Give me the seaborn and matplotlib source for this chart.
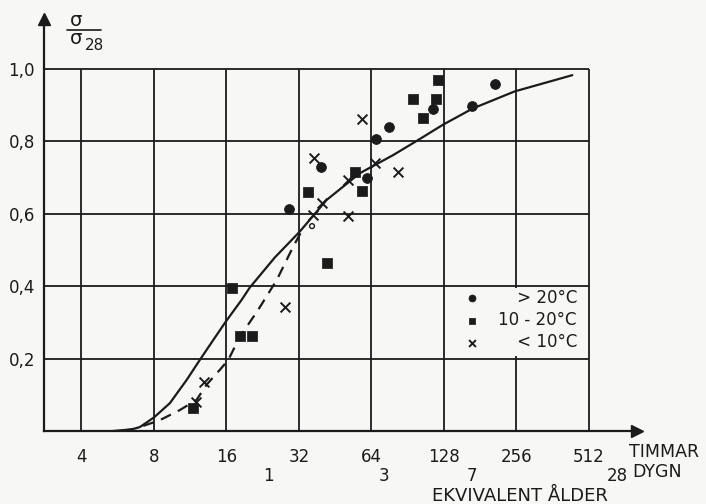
import numpy as np
import pandas as pd
import matplotlib
matplotlib.use('Agg')
import matplotlib.pyplot as plt
from matplotlib.patches import Rectangle
from matplotlib.lines import Line2D
import seaborn as sns

# ── Data ─────────────────────────────────────────────────────────────────────
hour_ticks = [4, 8, 16, 32, 64, 128, 256, 512]
day_ticks = [1, 3, 7, 28]
ratio_ticks = [0.2, 0.4, 0.6, 0.8, 1.0]

# > 20 °C (filled circles)
warm_h = [29.1, 39.7, 61.3, 66.9, 75.6, 115.5, 167.7, 209.8]
warm_r = [0.614, 0.728, 0.699, 0.808, 0.839, 0.889, 0.899, 0.959]
# one faint open circle
faint_h = [36.3]
faint_r = [0.566]

# 10 - 20 °C (filled squares)
mid_h = [11.6, 16.9, 18.2, 20.5, 34.9, 41.8, 54.8, 58.7, 95.8, 105.0, 118.6, 121.2]
mid_r = [0.064, 0.395, 0.263, 0.263, 0.661, 0.463, 0.716, 0.662, 0.917, 0.865, 0.918, 0.970]

# < 10 °C (crosses)
cold_h = [12.0, 12.9, 28.1, 36.7, 36.9, 39.8, 51.1, 51.3, 58.4, 66.2, 83.0]
cold_r = [0.081, 0.135, 0.342, 0.597, 0.753, 0.631, 0.593, 0.692, 0.862, 0.741, 0.715]

# solid curve
solid_h = [5.4, 6.1, 6.6, 7.0, 8.02, 9.32, 10.94, 12.4, 14.1, 15.9, 18.5, 20.0,
           25.4, 32.3, 41.7, 57.3, 78.8, 98.6, 127, 169, 252, 438]
solid_r = [0.0, 0.003, 0.006, 0.011, 0.038, 0.077, 0.141, 0.196, 0.251, 0.302,
           0.362, 0.396, 0.479, 0.551, 0.638, 0.712, 0.762, 0.801, 0.846, 0.891,
           0.938, 0.983]

# dashed curve
dash_h = [7.22, 8.47, 10.26, 12.03, 13.24, 15.03, 16.28, 18.2, 21.7, 25.9, 30.3, 32.8]
dash_r = [0.014, 0.030, 0.058, 0.086, 0.128, 0.169, 0.196, 0.260, 0.335, 0.417,
          0.509, 0.551]

ink = '#1b1b1b'
bg = '#f7f7f5'

sns.set_style('white')
plt.rcParams['font.family'] = ['DejaVu Sans']

fig = plt.figure(figsize=(7.06, 5.04), dpi=100, facecolor=bg)
# y: 0 at 431 px, 362 px per unit; x: 72.46 px per doubling
ax = fig.add_axes([44 / 706, 73 / 504, 593 / 706, 412 / 504], facecolor=bg)
ax.set_xscale('log', base=2)
ax.set_xlim(2.795, 813)
ax.set_ylim(0, 412 / 362)

# grid only inside the 0..1.0 / ..512 h box
ax.vlines(hour_ticks, 0, 1.0, color=ink, lw=1.3, zorder=1)
ax.hlines(ratio_ticks, 2.795, 512, color=ink, lw=1.3, zorder=1)

# curves
sns.lineplot(x=solid_h, y=solid_r, ax=ax, color=ink, lw=1.6, sort=False,
             estimator=None, zorder=2)
sns.lineplot(x=dash_h, y=dash_r, ax=ax, color=ink, lw=1.6, sort=False,
             estimator=None, zorder=2, linestyle=(0, (5, 3.5)))

# points
sns.scatterplot(x=warm_h, y=warm_r, ax=ax, marker='o', s=50, color=ink,
                edgecolor=ink, label='> 20°C', zorder=3)
sns.scatterplot(x=mid_h, y=mid_r, ax=ax, marker='s', s=45, color=ink,
                edgecolor=ink, label='10 - 20°C', zorder=3)
sns.scatterplot(x=cold_h, y=cold_r, ax=ax, marker='x', s=50, color=ink,
                linewidth=1.4, label='< 10°C', zorder=3)
sns.scatterplot(x=faint_h, y=faint_r, ax=ax, marker='o', s=12,
                facecolor='none', edgecolor=ink, linewidth=1.0, zorder=3)

# legend sits in a blanked grid cell
ax.add_patch(Rectangle((130, 0.206), 505 - 130, 0.188, transform=ax.transData,
                       facecolor=bg, edgecolor='none', zorder=2.5))
handles, labels = ax.get_legend_handles_labels()
labels = ['   \u2009> 20°C', '10 - 20°C', '   \u2009< 10°C']
leg = ax.legend(handles, labels, loc='upper left', bbox_to_anchor=(0.705, 0.345),
                frameon=False, borderpad=0, borderaxespad=0, handlelength=1.2,
                handletextpad=0.95, labelspacing=0.25, fontsize=12, markerscale=0.7)
for t in leg.get_texts():
    t.set_color(ink)

# axes with arrows
for side in ['top', 'right']:
    ax.spines[side].set_visible(False)
for side in ['left', 'bottom']:
    ax.spines[side].set_color(ink)
    ax.spines[side].set_linewidth(1.6)
ax.plot(1, 0, '>', color=ink, ms=9, transform=ax.transAxes, clip_on=False)
ax.plot(0, 1, '^', color=ink, ms=9, transform=ax.transAxes, clip_on=False)

ax.set_xticks(hour_ticks)
ax.set_xticklabels([str(h) for h in hour_ticks])
ax.set_xticks([24 * d for d in day_ticks], minor=True)
ax.set_xticklabels([str(d) for d in day_ticks], minor=True)
ax.set_yticks(ratio_ticks)
ax.set_yticklabels([f'{v:.1f}'.replace('.', ',') for v in ratio_ticks])
ax.tick_params(axis='x', which='major', length=2, width=1.3, pad=10.5,
               colors=ink, labelsize=12)
ax.tick_params(axis='x', which='minor', length=7, width=1.3, pad=19,
               colors=ink, labelsize=12)
ax.tick_params(axis='y', length=2.5, width=1.3, pad=4, colors=ink, labelsize=12)
ax.set_xlabel('')
ax.set_ylabel('')

# axis captions
fig.text(629 / 706, 1 - 452 / 504, 'TIMMAR', ha='left', va='center',
         fontsize=12.5, color=ink)
fig.text(632 / 706, 1 - 472 / 504, 'DYGN', ha='left', va='center',
         fontsize=12.5, color=ink)
fig.text(520 / 706, 1 - 496 / 504, 'EKVIVALENT ÅLDER', ha='center', va='center',
         fontsize=13, color=ink)

# sigma / sigma_28
fig.text(76 / 706, 1 - 20 / 504, 'σ', ha='center', va='center', fontsize=14,
         color=ink)
fig.add_artist(Line2D([67 / 706, 101 / 706], [1 - 29.5 / 504] * 2, color=ink, lw=1.2))
fig.text(76 / 706, 1 - 39 / 504, 'σ', ha='center', va='center', fontsize=14,
         color=ink)
fig.text(85 / 706, 1 - 45 / 504, '28', ha='left', va='center', fontsize=11,
         color=ink)

plt.savefig('out.png', dpi=100, facecolor=bg)
